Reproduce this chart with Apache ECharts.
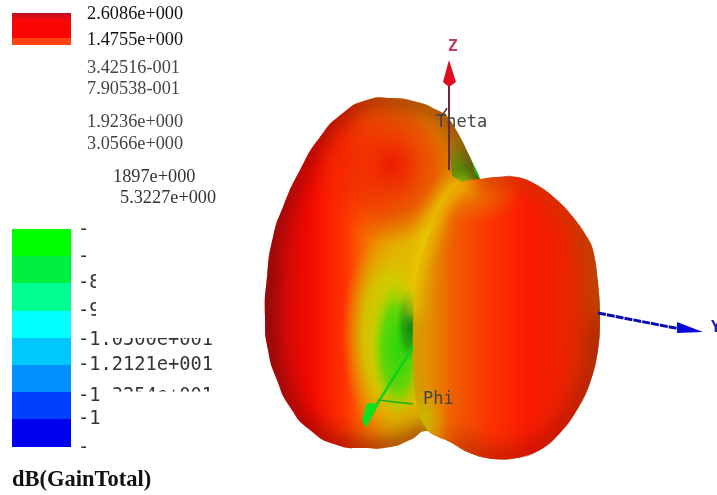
<!DOCTYPE html>
<html>
<head>
<meta charset="utf-8">
<style>
  html, body { margin: 0; padding: 0; background: #fff; }
  #chart { width: 717px; height: 495px; filter: blur(0.5px); }
</style>
<script src="https://cdn.jsdelivr.net/npm/echarts@6/dist/echarts.min.js"></script>
</head>
<body>
<div id="chart"></div>
<script>
// values
const scaleLabels = ["2.6086e+000", "1.4755e+000", "3.42516-001", "7.90538-001", "1.9236e+000", "3.0566e+000", "1897e+000", "5.3227e+000"];
const lowLabels = ["-", "-", "-8", "-9", "-1.0500e+001", "-1.2121e+001", "-1.3254e+001", "-1", "-"];
const axisNames = ["Z", "Theta", "Phi", "Y"];
const title = "dB(GainTotal)";

const topBandEdges = [13, 38, 45];
const lowBandEdges = [229, 256, 283, 311, 338, 365, 392, 419, 447];

const bodyOutline = [[390, 98], [417, 102], [437, 110], [447, 117], [458, 133], [470, 157], [480, 179],
  [497, 177], [517, 177], [537, 185], [557, 200], [573, 217], [587, 237], [593, 250], [598, 283], [600, 317],
  [598, 350], [590, 383], [577, 410], [560, 433], [540, 450], [517, 458], [493, 459], [470, 453], [450, 442],
  [428, 431], [410, 440], [390, 447], [363, 448], [337, 445], [310, 430], [290, 407], [277, 380], [268, 350],
  [265, 317], [267, 277], [273, 237], [283, 207], [300, 170], [320, 137], [343, 113], [367, 100]];
const rightLobe = [[480, 179], [462, 182], [448, 195], [435, 220], [422, 255], [415, 290], [413, 330], [413, 370],
  [417, 405], [428, 431], [450, 442], [470, 453], [493, 459], [517, 458], [540, 450], [560, 433], [577, 410],
  [590, 383], [598, 350], [600, 317], [598, 283], [593, 250], [587, 237], [573, 217], [557, 200], [537, 185],
  [517, 177], [497, 177]];
const backWedge = [[445, 113], [458, 133], [470, 157], [480, 179], [465, 184], [452, 176], [449, 150]];
const upperCrease = [[470, 182], [448, 195], [435, 220], [422, 255], [415, 290], [413, 315]];
const lowerCrease = [[414, 375], [417, 405], [428, 431]];

const zShaft = [[449, 170], [449, 85]];
const zHead = [[449, 60], [456, 82], [449, 87], [443, 82]];
const zTick = [[447, 108], [442, 116]];
const yShaft = [[598, 313], [680, 329]];
const yHead = [[677, 322], [703, 332], [677, 333]];
const phiShaft = [[413, 347], [372, 412]];
const phiHead = [[379, 404], [366, 428], [362, 420], [367, 403]];
const phiArc = [[378, 400], [395, 402], [413, 404]];

const chart = echarts.init(document.getElementById("chart"));

function pts(api, list) {
  return list.map((p) => api.coord(p));
}

function hGrad(x0, x1, stops) {
  return new echarts.graphic.LinearGradient(x0, 0, x1, 0, stops.map((s) => ({
    offset: (s[0] - x0) / (x1 - x0), color: s[1],
  })), true);
}

// soft elliptical patch of colour
function blob(api, cx, cy, rx, ry, tilt, stops) {
  const c = api.coord([cx, cy]);
  return {
    type: "circle",
    x: c[0], y: c[1],
    scaleX: rx / 100, scaleY: ry / 100,
    rotation: tilt,
    shape: { cx: 0, cy: 0, r: 100 },
    style: {
      fill: new echarts.graphic.RadialGradient(0.5, 0.5, 0.5, stops.map((s) => ({ offset: s[0], color: s[1] }))),
    },
  };
}

// only the blurred shadow of the line lands on the surface, the line itself sits off canvas
const OFF = 2000;
function glow(points, color, width, blur, smooth) {
  return {
    type: "polyline",
    shape: { points: points.map((p) => [p[0] - OFF, p[1]]), smooth },
    style: { fill: null, stroke: color, lineWidth: width, shadowBlur: blur, shadowColor: color, shadowOffsetX: OFF },
  };
}

function renderBody(params, api) {
  const outline = pts(api, bodyOutline);
  const right = pts(api, rightLobe);
  const closed = outline.concat([outline[0]]);
  const SM = 0.6;
  return {
    type: "group",
    children: [
      {
        type: "polygon",
        shape: { points: pts(api, backWedge), smooth: 0.1 },
        style: {
          fill: new echarts.graphic.LinearGradient(450, 115, 468, 182, [
            { offset: 0, color: "#d89000" },
            { offset: 0.35, color: "#b8b800" },
            { offset: 0.7, color: "#50b810" },
            { offset: 1, color: "#10a010" },
          ], true),
        },
      },
      {
        type: "group",
        clipPath: { type: "polygon", shape: { points: outline, smooth: SM } },
        children: [
          {
            type: "polygon",
            shape: { points: pts(api, [[260, 90], [448, 90], [449, 150], [452, 176], [465, 184], [480, 190], [480, 470], [260, 470]]) },
            style: {
              fill: hGrad(265, 470, [
                [265, "#a80c0c"], [285, "#d80a08"], [310, "#f40a00"], [345, "#ff3400"],
                [370, "#f47a00"], [395, "#e4aa00"], [425, "#e2c000"], [470, "#d8a800"],
              ]),
            },
          },
          blob(api, 392, 165, 72, 80, 0, [[0, "rgba(240,20,0,0.95)"], [0.6, "rgba(240,30,0,0.6)"], [1, "rgba(240,30,0,0)"]]),
          blob(api, 388, 335, 46, 105, 0, [[0, "rgba(190,215,0,1)"], [0.55, "rgba(205,210,0,0.8)"], [1, "rgba(225,190,0,0)"]]),
          blob(api, 398, 348, 27, 68, 0, [[0, "rgba(40,215,10,1)"], [0.6, "rgba(70,215,10,0.8)"], [1, "rgba(150,215,0,0)"]]),
          blob(api, 410, 325, 14, 38, 0, [[0, "rgba(15,130,25,1)"], [0.6, "rgba(20,150,20,0.65)"], [1, "rgba(30,190,15,0)"]]),
          glow(closed, "#7a0a0a", 10, 26, SM),
          glow(closed, "#8c0c0a", 4, 14, SM),
        ],
      },
      {
        type: "group",
        clipPath: { type: "polygon", shape: { points: right, smooth: 0.3 } },
        children: [
          {
            type: "rect",
            shape: { x: api.coord([405, 0])[0], y: api.coord([0, 170])[1], width: 200, height: 295 },
            style: {
              fill: hGrad(413, 600, [
                [413, "#d0a000"], [430, "#e48c00"], [455, "#f05c00"], [490, "#fb3400"],
                [530, "#fb1a00"], [565, "#ec2400"], [600, "#c84000"],
              ]),
            },
          },
          blob(api, 470, 195, 50, 30, 0, [[0, "rgba(235,120,0,1)"], [1, "rgba(235,110,0,0)"]]),
          blob(api, 422, 420, 26, 34, 0, [[0, "rgba(195,195,0,1)"], [1, "rgba(210,170,0,0)"]]),
          glow(pts(api, rightLobe.slice(10, 20)), "#8a0c06", 10, 24, 0.5),
          glow(pts(api, rightLobe.slice(19).concat([rightLobe[0]])), "#a84a00", 8, 22, 0.5),
        ],
      },
      {
        type: "group",
        clipPath: { type: "polygon", shape: { points: outline, smooth: SM } },
        children: [
          glow(pts(api, upperCrease), "#e8c400", 10, 18, 0.4),
          glow(pts(api, upperCrease), "#ecc800", 6, 12, 0.4),
          glow(pts(api, lowerCrease), "#c8a800", 2, 8, 0.4),
        ],
      },
    ],
  };
}

function bandSeries(edges, colors) {
  return {
    type: "custom",
    silent: true,
    z: 3,
    animation: false,
    coordinateSystem: "cartesian2d",
    data: edges.slice(0, -1).map((e, i) => [e, edges[i + 1]]),
    renderItem(params, api) {
      const a = api.coord([12, api.value(0)]);
      const b = api.coord([71, api.value(1)]);
      return {
        type: "rect",
        shape: { x: a[0], y: a[1], width: b[0] - a[0], height: b[1] - a[1] },
        style: { fill: colors[params.dataIndex] },
      };
    },
  };
}

function shaft(points, color, width, type) {
  return {
    type: "line", data: points, showSymbol: false, silent: true, animation: false, z: 5,
    lineStyle: { color, width, type: type || "solid" },
  };
}

function head(points, color) {
  return {
    type: "custom", silent: true, z: 6, animation: false, data: [0],
    renderItem(params, api) {
      return { type: "polygon", shape: { points: pts(api, points) }, style: { fill: color } };
    },
  };
}

const serif = "'Liberation Serif', serif";
const mono = "'DejaVu Sans Mono', monospace";

function txt(text, x, y, font, size, fill, weight) {
  return {
    type: "text", x, y, z: 20,
    style: { text, fontFamily: font, fontSize: size, fill, fontWeight: weight || "normal", textVerticalAlign: "middle" },
  };
}

function mask(x, y, width, height) {
  return { type: "rect", z: 21, shape: { x, y, width, height }, style: { fill: "#fff" } };
}

const scaleX = [87, 87, 87, 87, 87, 87, 113, 120];
const scaleY = [14, 40, 68, 89, 122, 144, 177, 198];
const scaleFill = ["#111", "#111", "#444", "#444", "#444", "#444", "#333", "#333"];
const lowY = [230, 257, 283, 311, 340, 365, 396, 419, 448];

const graphicEls = [];
scaleLabels.forEach((t, i) => graphicEls.push(txt(t, scaleX[i], scaleY[i], serif, 18.3, scaleFill[i])));
lowLabels.forEach((t, i) => graphicEls.push(txt(t, 78, lowY[i], mono, 18.7, "#333")));
graphicEls.push(
  mask(96, 274, 20, 46),
  mask(100, 328, 125, 10),
  mask(100, 385, 13, 22),
  mask(113, 391.5, 110, 16),
  txt(axisNames[0], 448, 47, mono, 16, "#c03a5a", "bold"),
  txt(axisNames[1], 436, 123, mono, 17, "#444"),
  txt(axisNames[2], 423, 400, mono, 17, "#444"),
  txt(axisNames[3], 711, 328, mono, 16, "#1a1ab0", "bold"),
  txt(title, 12, 480, serif, 22.5, "#111", "bold")
);

chart.setOption({
  animation: false,
  grid: { left: 0, right: 0, top: 0, bottom: 0 },
  xAxis: { type: "value", min: 0, max: 717, show: false },
  yAxis: { type: "value", min: 0, max: 495, inverse: true, show: false },
  graphic: { elements: graphicEls },
  series: [
    bandSeries(topBandEdges, [
      new echarts.graphic.LinearGradient(0, 0, 0, 1, [
        { offset: 0, color: "#b81024" }, { offset: 0.3, color: "#f80808" }, { offset: 1, color: "#ff0000" },
      ]),
      "#ff4412",
    ]),
    bandSeries(lowBandEdges, ["#00ff00", "#00f040", "#00ff90", "#00ffff", "#00c8ff", "#0090ff", "#0040ff", "#0000f0"]),
    {
      type: "custom", silent: true, z: 2, animation: false, data: [0], clip: false,
      renderItem: renderBody,
    },
    shaft(zShaft, "#6a2a40", 2),
    shaft(zTick, "#6a2a40", 1.5),
    head(zHead, "#e00c20"),
    shaft(yShaft, "#0a0ab0", 3, [8, 1]),
    head(yHead, "#0808d8"),
    shaft(phiShaft, "#10d020", 2.5),
    shaft(phiArc, "#18b020", 1.5),
    head(phiHead, "#10e020"),
  ],
});
</script>
</body>
</html>
